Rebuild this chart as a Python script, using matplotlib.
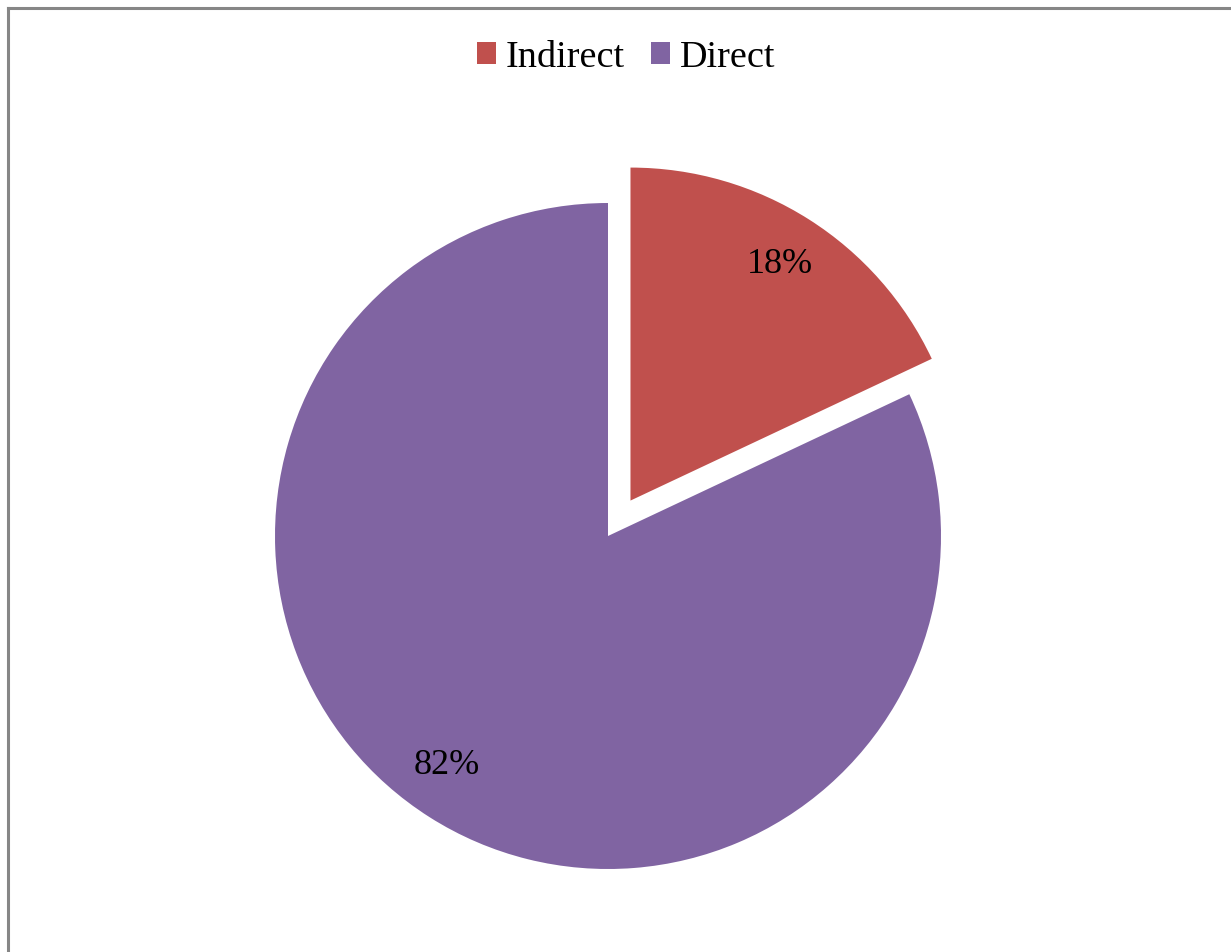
import matplotlib.pyplot as plt
from matplotlib.lines import Line2D

# data
labels = ['Indirect', 'Direct']
shares = [18, 82]
colors = ['#C0504D', '#8064A2']
explode = [0.126, 0]

plt.rcParams['font.family'] = ['Liberation Serif', 'DejaVu Serif']

W, H = 1231, 952
fig = plt.figure(figsize=(W / 100, H / 100), dpi=100)
fig.patch.set_facecolor('white')

# pie centre at (608, 536) px from top-left, radius ~333 px
cx, cy, r = 608, H - 536, 333
half = 400
ax = fig.add_axes([(cx - half) / W, (cy - half) / H, 2 * half / W, 2 * half / H])

wedges, texts, autotexts = ax.pie(
    shares, explode=explode, colors=colors, startangle=90, counterclock=False,
    autopct='%1.0f%%', pctdistance=0.84,
    textprops=dict(fontsize=26, color='black'))
ax.set_xlim(-half / r, half / r)
ax.set_ylim(-half / r, half / r)
ax.set_aspect('equal')
ax.axis('off')

# nudge the big-slice label a little toward the left like the original
x, y = autotexts[1].get_position()
autotexts[1].set_position((x - 0.035, y + 0.02))

leg = fig.legend(wedges, labels, loc='upper center', bbox_to_anchor=(626 / W, 1 - 6 / H),
                 ncol=2, frameon=False, fontsize=27.5, handlelength=0.5, handleheight=0.5,
                 handletextpad=0.24, columnspacing=0.7)

# chart area border (only left and top visible)
bx, by = 7.5 / W, 1 - 7.5 / H
fig.add_artist(Line2D([bx, bx], [0, by], transform=fig.transFigure, color='#868686', lw=2.2))
fig.add_artist(Line2D([bx, 1], [by, by], transform=fig.transFigure, color='#868686', lw=2.2))

fig.savefig('out.png', dpi=100)
